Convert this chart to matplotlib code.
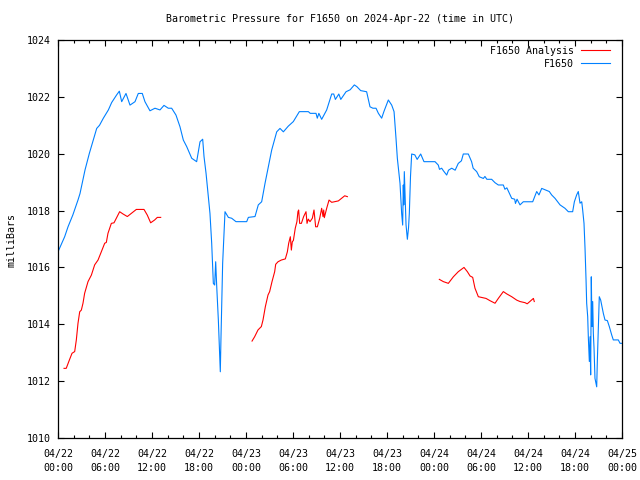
import numpy as np
import matplotlib
matplotlib.use("Agg")
from matplotlib import pyplot as plt
from matplotlib.ticker import MultipleLocator

# hours since 2024-04-22 00:00 UTC, pressure in mb
blue_t = [0.0, 0.4, 0.85, 1.28, 1.9, 2.55, 2.81, 3.45, 4.0, 4.5, 4.94, 5.3, 5.79, 6.43, 6.85,
          7.49, 7.83, 8.13, 8.68, 9.19, 9.83, 10.25, 10.76, 11.1, 11.74, 12.38, 13.02, 13.53,
          14.08, 14.51, 15.06, 15.57, 16.0, 16.43, 17.07, 17.7, 18.13, 18.47, 18.64, 18.9,
          19.4, 19.62, 19.83, 20.0, 20.13, 20.25, 20.47, 20.6, 20.72, 20.8, 21.02, 21.32,
          21.75, 22.17, 22.72, 24.09, 24.3, 25.15, 25.57, 26.0, 26.43, 26.85, 27.28, 27.92,
          28.34, 28.77, 29.4, 30.04, 30.81, 31.96, 32.2, 32.94, 33.1, 33.3, 33.66, 34.3,
          34.94, 35.2, 35.41, 35.85, 36.1, 36.77, 37.3, 37.83, 38.15, 38.64, 39.4, 39.83,
          40.2, 40.6, 40.9, 41.32, 41.6, 42.17, 42.6, 42.9, 43.15, 43.32, 43.66, 43.87, 44.0,
          44.08, 44.14, 44.21, 44.3, 44.43, 44.6, 44.75, 44.85, 45.0, 45.15, 45.55, 45.85,
          46.3, 46.72, 48.13, 48.55, 48.7, 48.98, 49.2, 49.62, 49.85, 50.26, 50.7, 51.1,
          51.5, 51.74, 52.38, 52.8, 53.0, 53.45, 53.78, 54.3, 54.5, 54.75, 55.36, 55.79,
          56.21, 56.85, 57.05, 57.3, 57.62, 57.92, 58.3, 58.4, 58.6, 58.98, 59.4, 60.6,
          61.11, 61.4, 61.75, 62.72, 63.02, 63.45, 64.09, 64.72, 65.15, 65.7, 65.92, 66.21,
          66.42, 66.64, 66.86, 66.98, 67.15, 67.28, 67.41, 67.49, 67.62, 67.7, 67.83, 67.92,
          68.0, 68.08, 68.17, 68.26, 68.34, 68.43, 68.55, 68.77, 68.85, 68.98, 69.1, 69.28,
          69.45, 69.62, 69.83, 70.13, 70.38, 70.69, 70.89, 71.53, 71.75, 72.0]
blue_p = [1016.55, 1016.8, 1017.08, 1017.43, 1017.85, 1018.37, 1018.6, 1019.43, 1020.01,
          1020.48, 1020.89, 1021.0, 1021.25, 1021.54, 1021.8, 1022.07, 1022.2, 1021.83,
          1022.12, 1021.71, 1021.83, 1022.12, 1022.12, 1021.83, 1021.51, 1021.6, 1021.54,
          1021.7, 1021.6, 1021.6, 1021.36, 1020.95, 1020.48, 1020.25, 1019.84, 1019.72,
          1020.42, 1020.51, 1019.9, 1019.31, 1017.9, 1016.85, 1015.44, 1015.38, 1016.2,
          1015.4, 1014.15, 1013.21, 1012.33, 1013.45, 1016.15, 1017.96, 1017.76, 1017.73,
          1017.61, 1017.61, 1017.76, 1017.79, 1018.2, 1018.31, 1018.96, 1019.54, 1020.13,
          1020.77, 1020.89, 1020.77, 1020.97, 1021.13, 1021.48, 1021.48, 1021.42, 1021.42,
          1021.25, 1021.42, 1021.21, 1021.54, 1022.1, 1022.1, 1021.91, 1022.1, 1021.91,
          1022.18, 1022.25, 1022.42, 1022.36, 1022.22, 1022.18, 1021.65, 1021.6, 1021.6,
          1021.42, 1021.25, 1021.48, 1021.89, 1021.71, 1021.48, 1020.54, 1019.84, 1018.96,
          1017.9, 1017.49, 1018.9, 1018.2, 1019.37, 1018.6, 1017.5, 1016.99, 1017.4, 1017.9,
          1019.2, 1019.99, 1019.96, 1019.8, 1019.99, 1019.72, 1019.72, 1019.6, 1019.45,
          1019.49, 1019.4, 1019.25, 1019.42, 1019.49, 1019.42, 1019.66, 1019.75, 1019.99,
          1019.99, 1019.72, 1019.49, 1019.37, 1019.19, 1019.13, 1019.2, 1019.1, 1019.1,
          1018.98, 1018.9, 1018.9, 1018.75, 1018.8, 1018.61, 1018.43, 1018.4, 1018.25,
          1018.4, 1018.2, 1018.31, 1018.31, 1018.67, 1018.55, 1018.78, 1018.67, 1018.55,
          1018.43, 1018.2, 1018.08, 1017.96, 1017.96, 1018.31, 1018.55, 1018.67, 1018.26,
          1018.31, 1018.02, 1017.55, 1016.67, 1015.56, 1014.74, 1014.27, 1013.56, 1012.69,
          1013.56, 1012.22, 1015.67, 1013.92, 1014.8, 1013.68, 1013.16, 1012.1, 1011.8,
          1012.69, 1013.92, 1014.97, 1014.85, 1014.62, 1014.38, 1014.15, 1014.13, 1013.92,
          1013.62, 1013.45, 1013.45, 1013.33, 1013.33]

# analysis series, NaN marks the gaps
red_t = [0.77, 1.05, 1.49, 1.79, 2.13, 2.34, 2.55, 2.77, 2.98, 3.19, 3.4, 3.83, 4.26, 4.68,
         5.11, 5.53, 5.96, 6.17, 6.38, 6.81, 7.15, 7.87, 8.3, 8.85, 10.0, 10.98, 11.4, 11.83,
         12.34, 12.68, 13.11, np.nan,
         24.77, 25.1, 25.53, 25.96, 26.17, 26.47, 26.81, 27.02, 27.32, 27.66, 27.79, 28.09,
         28.51, 29.02, 29.28, 29.45, 29.66, 29.79, 29.91, 30.05, 30.29, 30.5, 30.63, 30.72,
         30.85, 31.07, 31.36, 31.66, 31.79, 31.95, 32.17, 32.47, 32.68, 32.89, 33.11, 33.41,
         33.66, 33.83, 33.92, 34.0, 34.3, 34.6, 34.94, 35.79, 36.6, 36.94, np.nan,
         48.68, 49.2, 49.83, 50.47, 51.1, 51.83, 52.26, 52.6, 52.94, 53.23, 53.66, 54.64,
         55.15, 55.79, 56.21, 56.85, 57.28, 57.92, 58.56, 58.98, 59.62, 59.9, 60.69, 60.8]
red_p = [1012.45, 1012.45, 1012.77, 1012.98, 1013.04, 1013.45, 1014.03, 1014.44, 1014.5,
         1014.74, 1015.09, 1015.5, 1015.73, 1016.09, 1016.26, 1016.55, 1016.85, 1016.88,
         1017.2, 1017.55, 1017.57, 1017.96, 1017.88, 1017.79, 1018.04, 1018.04, 1017.84,
         1017.57, 1017.67, 1017.76, 1017.76, np.nan,
         1013.41, 1013.56, 1013.8, 1013.92, 1014.15, 1014.62, 1015.03, 1015.15, 1015.5,
         1015.85, 1016.11, 1016.2, 1016.26, 1016.3, 1016.55, 1016.85, 1017.08, 1016.61,
         1016.9, 1016.95, 1017.38, 1017.61, 1017.96, 1018.02, 1017.55, 1017.55, 1017.79,
         1017.96, 1017.55, 1017.7, 1017.61, 1017.73, 1018.02, 1017.43, 1017.43, 1017.73,
         1018.08, 1017.79, 1018.02, 1017.75, 1018.08, 1018.37, 1018.29, 1018.34, 1018.52,
         1018.49, np.nan,
         1015.58, 1015.5, 1015.44, 1015.67, 1015.85, 1016.0, 1015.85, 1015.7, 1015.65,
         1015.27, 1014.97, 1014.91, 1014.83, 1014.74, 1014.91, 1015.15, 1015.07, 1014.97,
         1014.85, 1014.8, 1014.76, 1014.72, 1014.91, 1014.8]

tick_hours = list(range(0, 73, 6))
tick_labels = ["04/22\n00:00", "04/22\n06:00", "04/22\n12:00", "04/22\n18:00",
               "04/23\n00:00", "04/23\n06:00", "04/23\n12:00", "04/23\n18:00",
               "04/24\n00:00", "04/24\n06:00", "04/24\n12:00", "04/24\n18:00",
               "04/25\n00:00"]

plt.rcParams['font.family'] = 'DejaVu Sans Mono'
fs = 7.2

fig = plt.figure(figsize=(6.4, 4.8), dpi=100)
ax = fig.add_axes([58/640, 42/480, 564/640, 398/480])

ax.plot(red_t, red_p, color='#ff0000', lw=0.8, label='F1650 Analysis')
ax.plot(blue_t, blue_p, color='#0080ff', lw=0.8, label='F1650')

ax.set_xlim(0, 72)
ax.set_ylim(1010, 1024)
ax.set_xticks(tick_hours)
ax.set_xticklabels(tick_labels, fontsize=fs, linespacing=1.45)
ax.xaxis.set_minor_locator(MultipleLocator(2))
ax.set_yticks(np.arange(1010, 1025, 2))
ax.tick_params(axis='y', labelsize=fs)
ax.tick_params(which='both', direction='in', top=True, right=True, width=0.8)
ax.tick_params(which='major', length=4.5)
ax.tick_params(which='minor', length=2.5)
ax.tick_params(axis='x', pad=8)
ax.tick_params(axis='y', pad=5)
for s in ax.spines.values():
    s.set_linewidth(0.9)

leg = ax.legend(loc='upper right', bbox_to_anchor=(0.979, 0.985), frameon=False,
                markerfirst=False, fontsize=fs, handlelength=2.9, handletextpad=0.7,
                labelspacing=0.3, borderpad=0, borderaxespad=0)

fig.text(340/640, 1 - 19/480, "Barometric Pressure for F1650 on 2024-Apr-22 (time in UTC)",
         ha='center', va='center', fontsize=fs)
fig.text(12/640, 0.5, "milliBars", rotation=90, ha='center', va='center', fontsize=fs)

plt.savefig("out.png", dpi=100)
